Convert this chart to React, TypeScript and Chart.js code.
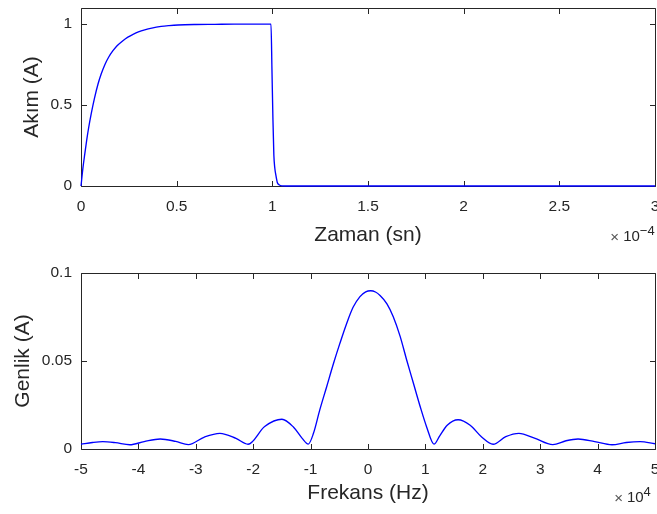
import React, { useEffect, useRef } from 'react';
import { Chart, registerables } from 'chart.js';

Chart.register(...registerables);

// ---- Top plot: current vs time (time in units of 1e-4 s) ----
const TIME = [
  0, 0.01, 0.02, 0.03, 0.04, 0.054, 0.07, 0.089, 0.105, 0.124, 0.145, 0.167, 0.19,
  0.219, 0.245, 0.272, 0.3, 0.333, 0.37, 0.419, 0.46, 0.507, 0.6, 0.7, 0.8, 0.993,
  0.998, 1.003, 1.008, 1.013, 1.018, 1.026, 1.035, 1.05, 1.07, 1.5, 2, 2.5, 3,
];
const CURRENT = [
  0, 0.11, 0.2, 0.285, 0.36, 0.45, 0.54, 0.63, 0.69, 0.748, 0.797, 0.836, 0.868,
  0.898, 0.92, 0.937, 0.952, 0.965, 0.976, 0.986, 0.991, 0.995, 0.998, 0.999, 1.0, 1.0,
  0.72, 0.42, 0.19, 0.11, 0.07, 0.022, 0.008, 0.001, 0, 0, 0, 0, 0,
];
const TIME_TICKS = [0, 0.5, 1, 1.5, 2, 2.5, 3];
const CURRENT_TICKS = [0, 0.5, 1];

// ---- Bottom plot: amplitude spectrum (frequency in units of 1e4 Hz) ----
const FREQ = [
  -5, -4.8, -4.62, -4.4, -4.15, -3.9, -3.62, -3.35, -3.13, -2.85, -2.58, -2.3, -2.09,
  -1.8, -1.5, -1.3, -1.15, -1.04, -0.95, -0.84, -0.72, -0.6, -0.49, -0.37, -0.26,
  -0.14, -0.04, 0.047, 0.13, 0.21, 0.33, 0.44, 0.56, 0.67, 0.79, 0.91, 1.02, 1.15,
  1.25, 1.38, 1.57, 1.78, 1.98, 2.18, 2.4, 2.63, 2.9, 3.22, 3.45, 3.66, 3.95, 4.25,
  4.5, 4.74, 5,
];
const AMPLITUDE = [
  0.0027, 0.0037, 0.0042, 0.0036, 0.0024, 0.0042, 0.0057, 0.0043, 0.0025, 0.0068, 0.0089, 0.006, 0.0027,
  0.0128, 0.0169, 0.0125, 0.0062, 0.0028, 0.0089, 0.0222, 0.0354, 0.0487, 0.06, 0.0715, 0.0805,
  0.0866, 0.0893, 0.0899, 0.0892, 0.0872, 0.0825, 0.0752, 0.064, 0.051, 0.0375, 0.024, 0.0127, 0.0028,
  0.0075, 0.0135, 0.0166, 0.0135, 0.0068, 0.0027, 0.007, 0.0089, 0.0062, 0.0025, 0.0047, 0.0057, 0.0042, 0.0024,
  0.0037, 0.0042, 0.003,
];
const FREQ_TICKS = [-5, -4, -3, -2, -1, 0, 1, 2, 3, 4, 5];
const AMPLITUDE_TICKS = [0, 0.05, 0.1];

const FONT = "'Liberation Sans', Arial, Helvetica, sans-serif";
const INK = '#262626';
const LINE = '#0000ff';
const TICK_LEN = 5.5;
const CANVAS_W = 680;
const CANVAS_H = 257;

const boxPlugin = {
  id: 'matlabBox',
  beforeDatasetsDraw(chart: any) {
    const { ctx, chartArea: a, scales } = chart;
    const xs = scales.x;
    const ys = scales.y;
    const L = Math.round(a.left) + 0.5;
    const R = Math.round(a.right) + 0.5;
    const T = Math.round(a.top) + 0.5;
    const B = Math.round(a.bottom) + 0.5;
    ctx.save();
    ctx.strokeStyle = INK;
    ctx.lineWidth = 1;
    ctx.beginPath();
    ctx.rect(L, T, R - L, B - T);
    for (const t of xs.ticks) {
      const p = Math.round(xs.getPixelForValue(t.value)) + 0.5;
      ctx.moveTo(p, B);
      ctx.lineTo(p, B - TICK_LEN);
      ctx.moveTo(p, T);
      ctx.lineTo(p, T + TICK_LEN);
    }
    for (const t of ys.ticks) {
      const p = Math.round(ys.getPixelForValue(t.value)) + 0.5;
      ctx.moveTo(L, p);
      ctx.lineTo(L + TICK_LEN, p);
      ctx.moveTo(R, p);
      ctx.lineTo(R - TICK_LEN, p);
    }
    ctx.stroke();
    ctx.restore();
  },
};

const expPlugin = {
  id: 'expLabel',
  afterDraw(chart: any, _args: any, opts: any) {
    if (!opts || !opts.sup) return;
    const { ctx, chartArea: a } = chart;
    ctx.save();
    ctx.fillStyle = INK;
    ctx.textBaseline = 'middle';
    ctx.textAlign = 'left';
    const baseFont = `15px ${FONT}`;
    const supFont = `13px ${FONT}`;
    ctx.font = baseFont;
    const wx = ctx.measureText('×').width;
    const w10 = ctx.measureText('10').width;
    ctx.font = supFont;
    const ws = ctx.measureText(opts.sup).width;
    const gap = 4;
    const total = wx + gap + w10 + ws;
    const cx = a.right - 22.5;
    let x = cx - total / 2;
    const y = a.bottom + opts.dy;
    ctx.fillStyle = '#555555';
    ctx.font = baseFont;
    ctx.fillText('×', x, y + 1);
    ctx.fillStyle = INK;
    x += wx + gap;
    ctx.fillText('10', x, y);
    x += w10;
    ctx.font = supFont;
    ctx.fillText(opts.sup, x, y - 6);
    ctx.restore();
  },
};

function makeConfig(p: {
  xs: number[]; ys: number[]; xTicks: number[]; yTicks: number[];
  xMin: number; xMax: number; yMin: number; yMax: number;
  xTitle: string; yTitle: string; sup: string; expDy: number;
  top: number; xAxisH: number; yTitlePad: number; xTitlePad: number;
}): any {
  const data = p.xs.map((x, i) => ({ x, y: p.ys[i] }));
  const tickFont = { family: FONT, size: 15.5 };
  const titleFont = { family: FONT, size: 21 };
  return {
    type: 'line',
    data: {
      datasets: [
        {
          data,
          borderColor: LINE,
          borderWidth: 1.35,
          pointRadius: 0,
          fill: false,
          cubicInterpolationMode: 'monotone',
          clip: 4,
        },
      ],
    },
    plugins: [boxPlugin, expPlugin],
    options: {
      animation: false,
      responsive: false,
      maintainAspectRatio: false,
      events: [],
      layout: { padding: { left: 0, right: CANVAS_W - 655, top: p.top, bottom: 0 } },
      plugins: {
        legend: { display: false },
        tooltip: { enabled: false },
        expLabel: { sup: p.sup, dy: p.expDy },
      },
      scales: {
        x: {
          type: 'linear',
          min: p.xMin,
          max: p.xMax,
          grid: { display: false, drawTicks: false },
          border: { display: false },
          afterBuildTicks: (s: any) => {
            s.ticks = p.xTicks.map((v) => ({ value: v }));
          },
          afterFit: (s: any) => {
            s.height = p.xAxisH;
            s.paddingLeft = 0;
            s.paddingRight = 0;
          },
          ticks: {
            color: INK,
            font: tickFont,
            padding: 11.7,
            maxRotation: 0,
            autoSkip: false,
            callback: (v: number) => String(v),
          },
          title: {
            display: true,
            text: p.xTitle,
            color: INK,
            font: titleFont,
            padding: { top: 0, bottom: p.xTitlePad },
          },
        },
        y: {
          type: 'linear',
          min: p.yMin,
          max: p.yMax,
          grid: { display: false, drawTicks: false },
          border: { display: false },
          afterBuildTicks: (s: any) => {
            s.ticks = p.yTicks.map((v) => ({ value: v }));
          },
          afterFit: (s: any) => {
            s.width = 81;
            s.paddingTop = 0;
            s.paddingBottom = 0;
          },
          ticks: {
            color: INK,
            font: tickFont,
            padding: 9,
            autoSkip: false,
            callback: (v: number) => String(v),
          },
          title: {
            display: true,
            text: p.yTitle,
            color: INK,
            font: titleFont,
            padding: { top: p.yTitlePad, bottom: 0 },
          },
        },
      },
    },
  };
}

export default function App() {
  const topRef = useRef<HTMLCanvasElement | null>(null);
  const botRef = useRef<HTMLCanvasElement | null>(null);

  useEffect(() => {
    if (!topRef.current || !botRef.current) return;
    const top = new Chart(
      topRef.current,
      makeConfig({
        xs: TIME, ys: CURRENT, xTicks: TIME_TICKS, yTicks: CURRENT_TICKS,
        xMin: 0, xMax: 3, yMin: 0, yMax: 1.1,
        xTitle: 'Zaman (sn)', yTitle: 'Akım (A)', sup: '−4', expDy: 51,
        top: 8, xAxisH: CANVAS_H - 186, yTitlePad: 19.9, xTitlePad: 9.4,
      })
    );
    const bot = new Chart(
      botRef.current,
      makeConfig({
        xs: FREQ, ys: AMPLITUDE, xTicks: FREQ_TICKS, yTicks: AMPLITUDE_TICKS,
        xMin: -5, xMax: 5, yMin: 0, yMax: 0.1,
        xTitle: 'Frekans (Hz)', yTitle: 'Genlik (A)', sup: '4', expDy: 49,
        top: 16, xAxisH: CANVAS_H - 192, yTitlePad: 10.5, xTitlePad: 7.9,
      })
    );
    return () => {
      top.destroy();
      bot.destroy();
    };
  }, []);

  return (
    <div
      style={{
        position: 'fixed',
        left: 0,
        top: 0,
        width: 657,
        height: 514,
        overflow: 'hidden',
        background: '#ffffff',
      }}
    >
      <canvas
        ref={topRef}
        width={CANVAS_W}
        height={CANVAS_H}
        style={{ position: 'absolute', left: 0, top: 0, width: CANVAS_W, height: CANVAS_H }}
      />
      <canvas
        ref={botRef}
        width={CANVAS_W}
        height={CANVAS_H}
        style={{ position: 'absolute', left: 0, top: CANVAS_H, width: CANVAS_W, height: CANVAS_H }}
      />
    </div>
  );
}
